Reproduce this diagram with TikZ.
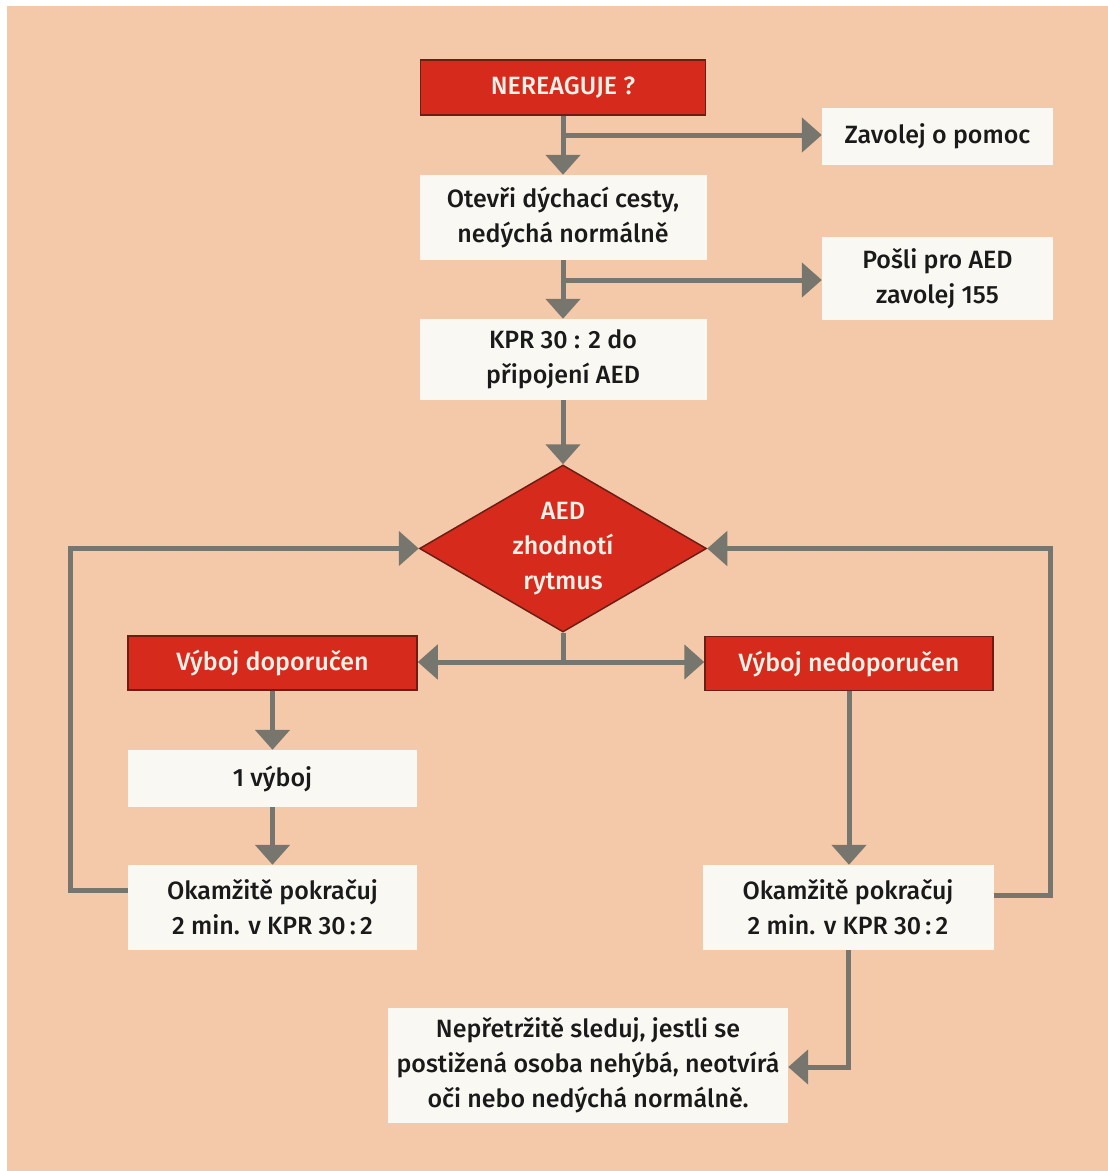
\documentclass[tikz,border=0pt]{standalone}
\usepackage{fontspec}
\setmainfont{Fira Sans}[UprightFont={* Medium},BoldFont={* SemiBold}]
\usetikzlibrary{arrows.meta,shapes.geometric}
\definecolor{paper}{HTML}{F3C9A9}
\definecolor{alarm}{HTML}{D62A1C}
\definecolor{alarmedge}{HTML}{6B1E14}
\definecolor{card}{HTML}{FAF8F3}
\definecolor{flow}{HTML}{76766E}
\definecolor{ink}{HTML}{1A1A1A}
\definecolor{lighttext}{HTML}{F8F1E8}
\begin{document}
\begin{tikzpicture}[x=1pt,y=-1pt,
  every node/.style={font=\fontsize{25}{35}\selectfont, align=center, inner sep=0pt},
  redbox/.style={rectangle, fill=alarm, draw=alarmedge, line width=1.5pt, text=lighttext},
  whitebox/.style={rectangle, fill=card, text=ink},
  decision/.style={diamond, aspect=1.72, fill=alarm, draw=alarmedge, line width=1.5pt, text=lighttext},
  link/.style={draw=flow, line width=5pt, -{Triangle[width=34pt,length=20pt]}},
  plain/.style={draw=flow, line width=5pt},
  both/.style={draw=flow, line width=5pt, {Triangle[width=34pt,length=20pt]}-{Triangle[width=34pt,length=20pt]}}]
  % page and paper background
  \fill[white] (0,0) rectangle (1108,1171);
  \fill[paper] (7,6) rectangle (1108,1171);
  \useasboundingbox (0,0) rectangle (1108,1171);

  % boxes
  \node[redbox, minimum width=285pt, minimum height=55pt] (ner) at (563,87.5) {NEREAGUJE ?};
  \node[whitebox, minimum width=231pt, minimum height=57pt] (zav) at (937.5,136.5) {Zavolej o pomoc};
  \node[whitebox, minimum width=287pt, minimum height=85pt] (ote) at (563,217.5) {Otevři dýchací cesty,\\nedýchá normálně};
  \node[whitebox, minimum width=231pt, minimum height=83pt] (pos) at (937.5,278.5) {Pošli pro AED\\zavolej 155};
  \node[whitebox, minimum width=287pt, minimum height=81pt] (kpr) at (563,359.5) {KPR 30 : 2 do\\připojení AED};
  \node[decision, minimum width=287pt, minimum height=167pt] (dia) at (563,548.5) {AED\\zhodnotí\\rytmus};
  \node[redbox, minimum width=289pt, minimum height=54pt] (vd) at (272.5,663) {Výboj doporučen};
  \node[redbox, minimum width=288pt, minimum height=54pt] (vn) at (849,663.5) {Výboj nedoporučen};
  \node[whitebox, minimum width=289pt, minimum height=57pt] (one) at (272.5,778.5) {1 výboj};
  \node[whitebox, minimum width=289pt, minimum height=85pt] (okl) at (272.5,907.5) {Okamžitě pokračuj\\2 min. v KPR 30\,:\,2};
  \node[whitebox, minimum width=291pt, minimum height=85pt] (okr) at (848,907.5) {Okamžitě pokračuj\\2 min. v KPR 30\,:\,2};
  \node[whitebox, minimum width=400pt, minimum height=115pt] (bot) at (588,1065.5) {Nepřetržitě sleduj, jestli se\\postižená osoba nehýbá, neotvírá\\oči nebo nedýchá normálně.};

  % junction points on the main line
  \coordinate (j1) at (563,135);
  \coordinate (j2) at (563,280);
  \coordinate (j3) at (563,662);

  % main column
  \draw[link] (ner.south) -- (ote.north);
  \draw[link] (j1) -- (zav.west |- j1);
  \draw[link] (ote.south) -- (kpr.north);
  \draw[link] (j2) -- (pos.west |- j2);
  \draw[link] (kpr.south) -- (dia.north);
  \draw[plain] (dia.south) -- (j3);
  \draw[both] (vd.east |- j3) -- (vn.west |- j3);

  % left branch
  \draw[link] (vd.south) -- (one.north);
  \draw[link] (one.south) -- (okl.north);
  \coordinate (lc1) at (70,890);
  \coordinate (lc2) at (70,548.5);
  \draw[link, line join=miter] (okl.west |- lc1) -- (lc1) -- (lc2) -- (dia.west);

  % right branch
  \draw[link] (vn.south) -- (vn.south |- okr.north);
  \coordinate (rc1) at (1050,895);
  \coordinate (rc2) at (1050,548.5);
  \draw[link, line join=miter] (okr.east |- rc1) -- (rc1) -- (rc2) -- (dia.east);
  \coordinate (bc) at (848,1067);
  \draw[link, line join=miter] (okr.south) -- (bc) -- (bot.east |- bc);
\end{tikzpicture}
\end{document}
